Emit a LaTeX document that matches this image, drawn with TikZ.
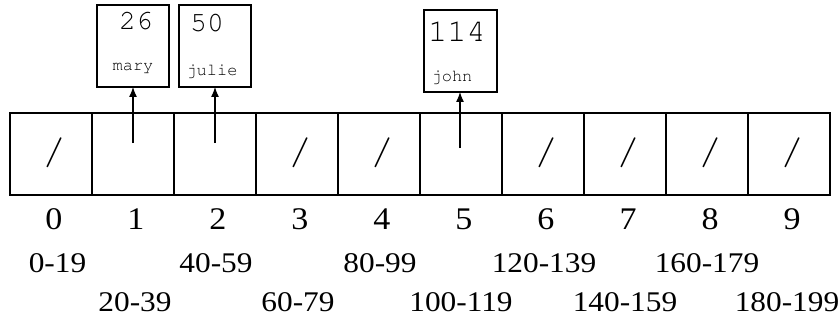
\documentclass[tikz,border=0pt]{standalone}
\usepackage{fontspec}
\setmainfont{Liberation Serif}
\usetikzlibrary{arrows.meta}
\newcommand{\courierfont}{\fontencoding{OT1}\fontfamily{pcr}\selectfont}
\tikzset{
  cellbox/.style={draw, line width=1.2pt, minimum width=82pt, minimum height=82pt, inner sep=0pt, outer sep=0pt},
  recbox/.style={draw, line width=1.2pt, inner sep=0pt, outer sep=0pt},
  idx/.style={font=\fontsize{31.5}{34}\selectfont, anchor=base, inner sep=0pt, xscale=1.08},
  rng/.style={font=\fontsize{28.5}{31}\selectfont, anchor=base, inner sep=0pt, xscale=1.1},
  slashtxt/.style={font=\courierfont\fontsize{40}{42}\selectfont, inner sep=0pt},
  bignum/.style={font=\courierfont\fontsize{28}{30}\selectfont, anchor=base, inner sep=0pt},
  smalltxt/.style={font=\courierfont\fontsize{17}{19}\selectfont, anchor=base, inner sep=0pt},
  ptr/.style={line width=1.2pt, -{Latex[length=10pt,width=8pt]}}
}
\begin{document}
\begin{tikzpicture}[x=1pt,y=-1pt]
\useasboundingbox (0,0) rectangle (839,321);
% cells
\foreach \i in {0,...,9}{
  \node[cellbox] (c\i) at ({51+82*\i},154) {};
  \node[idx] (n\i) at ({54+82*\i},229) {\i};
}
\foreach \i in {0,3,4,6,7,8,9}{
  \node[slashtxt] (s\i) at ({54+82*\i},153) {/};
}
% ranges
\node[rng] (r0) at (57.5,272) {0-19};
\node[rng] (r2) at (216,272) {40-59};
\node[rng] (r4) at (380,272) {80-99};
\node[rng] (r6) at (544,272) {120-139};
\node[rng] (r8) at (707,272) {160-179};
\node[rng] (r1) at (135,311.7) {20-39};
\node[rng] (r3) at (298,311.7) {60-79};
\node[rng] (r5) at (461,311.7) {100-119};
\node[rng] (r7) at (625,311.7) {140-159};
\node[rng] (r9) at (787,311.7) {180-199};
% records
\node[recbox, minimum width=72pt, minimum height=82pt] (b1) at (133,46) {};
\node[recbox, minimum width=72pt, minimum height=82pt] (b2) at (215,46) {};
\node[recbox, minimum width=73pt, minimum height=82pt] (b5) at (460.5,51) {};
\node[bignum] (k1) at (136,29.3) {26};
\node[smalltxt] (m1) at (133,71) {mary};
\node[bignum] (k2) at (207,31.7) {50};
\node[smalltxt] (m2) at (212,76) {julie};
\node[bignum, font=\courierfont\fontsize{32}{34}\selectfont] (k5) at (457,41.7) {114};
\node[smalltxt] (m5) at (452,81.5) {john};
% pointers
\coordinate (p1) at (133,143);
\coordinate (p2) at (215,143);
\coordinate (p5) at (460,148);
\draw[ptr] (p1) -- (b1.south -| p1);
\draw[ptr] (p2) -- (b2.south -| p2);
\draw[ptr] (p5) -- (b5.south -| p5);
\end{tikzpicture}
\end{document}
